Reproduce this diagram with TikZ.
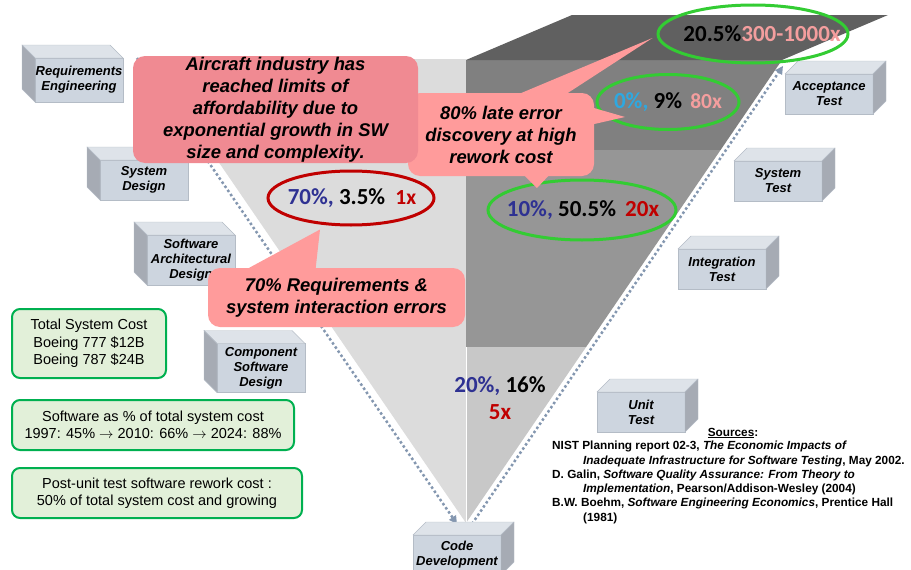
\documentclass[tikz,border=0pt]{standalone}
\usepackage{xcolor}
\usepackage{tikz}
\usepackage{fontspec}
\setmainfont{Liberation Sans}
\newfontfamily\calibri{Carlito}
\definecolor{cubefront}{RGB}{205, 213, 223}
\definecolor{cubetop}{RGB}{222, 227, 233}
\definecolor{cubeside}{RGB}{166, 171, 180}
\definecolor{cubeedge}{RGB}{180, 188, 198}
\definecolor{vlight}{RGB}{220, 220, 220}
\definecolor{vpale}{RGB}{200, 200, 200}
\definecolor{vmid}{RGB}{150, 150, 150}
\definecolor{vdark}{RGB}{128, 128, 128}
\definecolor{vtop}{RGB}{96, 96, 96}
\definecolor{flowblue}{RGB}{132, 151, 176}
\definecolor{calloutrose}{RGB}{240, 138, 146}
\definecolor{calloutpink}{RGB}{255, 155, 155}
\definecolor{notegreen}{RGB}{0, 176, 80}
\definecolor{notefill}{RGB}{226, 240, 217}
\definecolor{ringgreen}{RGB}{51, 204, 51}
\definecolor{ringred}{RGB}{192, 0, 0}
\definecolor{costblue}{RGB}{46, 49, 146}
\definecolor{costcyan}{RGB}{46, 168, 224}
\definecolor{costsalmon}{RGB}{244, 158, 158}
\definecolor{costred}{RGB}{192, 0, 0}
\usetikzlibrary{shapes, arrows.meta, positioning, calc}

% 3D faces of the phase boxes
\newcommand{\cubeleft}[1]{%
    \filldraw[draw=cubeedge, fill=cubetop] (#1.north west) -- ++(-13,-13) -- ($(#1.north east)+(-13,-13)$) -- (#1.north east) -- cycle;
    \filldraw[draw=cubeedge, fill=cubeside] (#1.north west) -- ++(-13,-13) -- ($(#1.south west)+(-13,-13)$) -- (#1.south west) -- cycle;
}
\newcommand{\cuberight}[1]{%
    \filldraw[draw=cubeedge, fill=cubetop] (#1.north west) -- ++(13,-13) -- ($(#1.north east)+(13,-13)$) -- (#1.north east) -- cycle;
    \filldraw[draw=cubeedge, fill=cubeside] (#1.north east) -- ++(13,-13) -- ($(#1.south east)+(13,-13)$) -- (#1.south east) -- cycle;
}

\begin{document}
\begin{tikzpicture}[x=1pt, y=-1pt,
    cube/.style={rectangle, draw=cubeedge, fill=cubefront, minimum width=88pt, minimum height=40pt, inner sep=0, outer sep=0, align=center, font=\fontsize{13}{15}\selectfont\bfseries\itshape},
    flow/.style={draw=flowblue, line width=2.5pt, dash pattern=on 2.5pt off 2.5pt, -{Triangle[length=8pt, width=8pt]}},
    ring/.style={ellipse, line width=3pt, inner sep=0},
    figs/.style={font=\calibri\fontsize{23}{27}\selectfont\bfseries, inner sep=0, align=center},
    callout/.style={rectangle, rounded corners=12pt, inner sep=0, align=center, font=\fontsize{18.4}{22}\selectfont\bfseries\itshape},
    note/.style={rectangle, draw=notegreen, fill=notefill, line width=2pt, rounded corners=8pt, inner sep=0, align=center, font=\fontsize{14.5}{17.5}\selectfont}
]
    \useasboundingbox (0,0) rectangle (911,570);

    % V background
    \fill[vlight] (148,59) -- (466,59) -- (466,523) -- cycle;
    \begin{scope}
        \clip (466,60) -- (782,60) -- (466,523) -- cycle;
        \fill[vdark] (466,60) rectangle (800,150);
        \fill[vmid] (466,150) rectangle (800,347);
        \fill[vpale] (466,347) rectangle (800,530);
    \end{scope}
    \fill[vtop] (466,60) -- (572,15) -- (888,15) -- (782,60) -- cycle;
    \draw[white, line width=1pt] (466,347) -- (466,523);

    % Flow arrows
    \coordinate (dl0) at (137,58);
    \coordinate (dl1) at (457,524);
    \coordinate (dr0) at (472,524);
    \coordinate (dr1) at (783,66);
    \draw[flow] (dl0) -- (dl1);
    \draw[flow] (dr0) -- (dr1);

    % Phase boxes
    \node[cube, minimum height=44pt] (req) at (79,80) {Requirements\\Engineering};
    \node[cube] (sysdes) at (144,180) {System\\Design};
    \node[cube, minimum height=50pt] (archdes) at (191,260) {Software\\Architectural\\Design};
    \node[cube, minimum height=49pt] (compdes) at (261,368) {Component\\Software\\Design};
    \node[cube] (code) at (457,555) {Code\\Development};
    \node[cube] (unit) at (641,412) {Unit\\Test};
    \node[cube] (integ) at (722,269) {Integration\\Test};
    \node[cube] (systest) at (778,181) {System\\Test};
    \node[cube] (accept) at (829,94) {Acceptance\\Test};
    \cubeleft{req}
    \cubeleft{sysdes}
    \cubeleft{archdes}
    \cubeleft{compdes}
    \cuberight{code}
    \cuberight{unit}
    \cuberight{integ}
    \cuberight{systest}
    \cuberight{accept}

    % Rings
    \node[ring, draw=ringred, minimum width=166pt, minimum height=54pt] (e1) at (351,198) {};
    \node[ring, draw=ringgreen, minimum width=190pt, minimum height=58pt] (e4) at (753,34) {};
    \node[ring, draw=ringgreen, minimum width=142pt, minimum height=55pt] (e2) at (668,102) {};
    \node[ring, draw=ringgreen, minimum width=188pt, minimum height=60pt] (e3) at (582,210) {};

    % Callouts
    \node[callout, fill=calloutpink, minimum width=186pt, minimum height=83pt] (late) at (501,134.5) {80\% late error\\discovery at high\\rework cost};
    \fill[calloutpink] ($(late.north)+(16,2)$) -- ($(e4.west)+(-4,4)$) -- ($(late.north)+(64,2)$) -- cycle;
    \fill[calloutpink] ($(late.east)+(-2,-27)$) -- (625,117) -- ($(late.east)+(-2,-10)$) -- cycle;
    \fill[calloutpink] ($(late.south)+(22,-2)$) -- (537,188) -- ($(late.south)+(49,-2)$) -- cycle;
    \node[callout, fill=calloutrose, minimum width=285pt, minimum height=107pt] (aircraft) at (275.5,109.5) {Aircraft industry has\\reached limits of\\affordability due to\\exponential growth in SW\\size and complexity.};
    \node[callout, fill=calloutpink, minimum width=257pt, minimum height=59pt] (reqerr) at (336.5,297.5) {70\% Requirements \&\\system interaction errors};
    \fill[calloutpink] ($(reqerr.north)+(-91,2)$) -- ($(e1.south)+(-31,3)$) -- ($(reqerr.north)+(-21,2)$) -- cycle;

    % Figures
    \node[figs] (f1) at (352,198) {\textcolor{costblue}{70\%,} 3.5\%\hspace{5pt} \textcolor{costred}{\fontsize{21.5}{24}\selectfont 1x}};
    \node[figs] (f4) at (762,34) {20.5\%\textcolor{costsalmon}{300-1000x}};
    \node[figs] (f2) at (e2) {\textcolor{costcyan}{0\%,} 9\%\hspace{3pt} \textcolor{costsalmon}{\fontsize{21.5}{24}\selectfont 80x}};
    \node[figs] (f3) at (583,210) {\textcolor{costblue}{10\%,} 50.5\%\hspace{4pt} \textcolor{costred}{20x}};
    \node[figs] (f5) at (500,398) {\textcolor{costblue}{20\%,} 16\%\\\textcolor{costred}{5x}};

    % Notes
    \node[note, minimum width=154pt, minimum height=69pt] (cost) at (89,343.5) {Total System Cost\\Boeing 777 \$12B\\Boeing 787 \$24B};
    \node[note, minimum width=282pt, minimum height=50pt] (share) at (153,425) {Software as \% of total system cost\\1997: 45\% $\rightarrow$ 2010: 66\% $\rightarrow$ 2024: 88\%};
    \node[note, minimum width=290pt, minimum height=50pt] (rework) at (157,493) {Post-unit test software rework cost :\\50\% of total system cost and growing};

    % Sources
    \node[font=\fontsize{11.8}{14.3}\selectfont\bfseries, inner sep=0, anchor=base] (srchead) at (733,436) {\underline{Sources}:};
    \node[font=\fontsize{11.8}{14.3}\selectfont\bfseries, inner sep=0, align=left, anchor=north west] (srclist) at (552,441) {NIST Planning report 02-3, \textit{The Economic Impacts of}\\
        \hspace*{31pt}\textit{Inadequate Infrastructure for Software Testing}, May 2002.\\
        D. Galin, \textit{Software Quality Assurance: From Theory to}\\
        \hspace*{31pt}\textit{Implementation}, Pearson/Addison-Wesley (2004)\\
        B.W. Boehm, \textit{Software Engineering Economics}, Prentice Hall\\
        \hspace*{31pt}(1981)};
\end{tikzpicture}
\end{document}
